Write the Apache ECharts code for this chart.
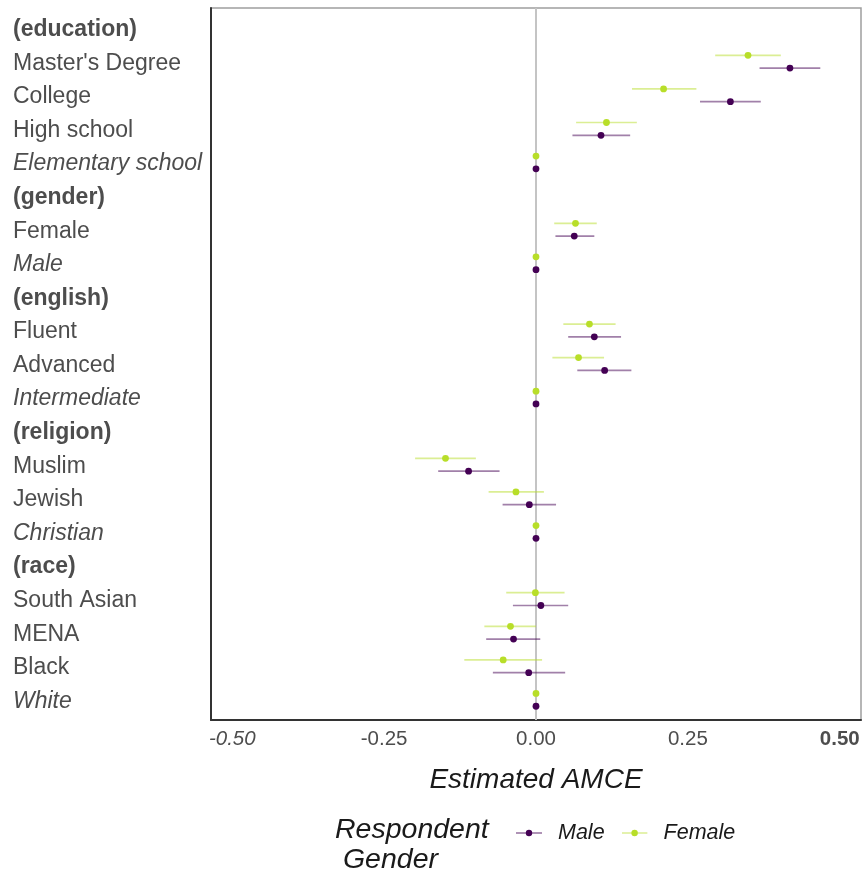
<!DOCTYPE html>
<html>
<head>
<meta charset="utf-8">
<script src="https://cdn.jsdelivr.net/npm/echarts@6/dist/echarts.min.js"></script>
<style>
  html, body { margin: 0; padding: 0; background: #ffffff; }
  #chart { width: 867px; height: 871px; }
</style>
</head>
<body>
<div id="chart"></div>
<script>
// Attribute levels, top to bottom. Kind: 'h' = attribute header, 'n' = level, 'r' = reference level
const rowLabels = [
  '(education)', "Master's Degree", 'College', 'High school', 'Elementary school',
  '(gender)', 'Female', 'Male',
  '(english)', 'Fluent', 'Advanced', 'Intermediate',
  '(religion)', 'Muslim', 'Jewish', 'Christian',
  '(race)', 'South Asian', 'MENA', 'Black', 'White'
];
const rowKinds = [
  'h', 'n', 'n', 'n', 'r',
  'h', 'n', 'r',
  'h', 'n', 'n', 'r',
  'h', 'n', 'n', 'r',
  'h', 'n', 'n', 'n', 'r'
];

// Male respondents: estimate and 95% interval
const maleEst = [null, 0.418, 0.320, 0.107, 0, null, 0.063, 0, null, 0.096, 0.113, 0, null, -0.111, -0.011, 0, null, 0.008, -0.037, -0.012, 0];
const maleLo  = [null, 0.368, 0.270, 0.060, 0, null, 0.032, 0, null, 0.053, 0.068, 0, null, -0.161, -0.055, 0, null, -0.038, -0.082, -0.071, 0];
const maleHi  = [null, 0.468, 0.370, 0.155, 0, null, 0.096, 0, null, 0.140, 0.157, 0, null, -0.060, 0.033, 0, null, 0.053, 0.007, 0.048, 0];

// Female respondents: estimate and 95% interval
const femaleEst = [null, 0.349, 0.210, 0.116, 0, null, 0.065, 0, null, 0.088, 0.070, 0, null, -0.149, -0.033, 0, null, -0.001, -0.042, -0.054, 0];
const femaleLo  = [null, 0.295, 0.158, 0.066, 0, null, 0.030, 0, null, 0.045, 0.027, 0, null, -0.199, -0.078, 0, null, -0.049, -0.085, -0.118, 0];
const femaleHi  = [null, 0.403, 0.264, 0.166, 0, null, 0.100, 0, null, 0.131, 0.112, 0, null, -0.099, 0.013, 0, null, 0.047, 0.000, 0.010, 0];

const xTicks = [-0.5, -0.25, 0, 0.25, 0.5];

const MALE_COLOR = '#440154';
const FEMALE_COLOR = '#B8DE29';

function buildData(est, lo, hi) {
  const out = [];
  for (let i = 0; i < est.length; i++) {
    if (est[i] === null) continue;
    out.push([est[i], i, lo[i], hi[i]]);
  }
  return out;
}

// point with horizontal interval, dodged vertically within its row
function pointRange(dodge, color) {
  return function (params, api) {
    const est = api.value(0), row = api.value(1), lo = api.value(2), hi = api.value(3);
    const dy = api.size([0, 1])[1] * dodge;
    const p = api.coord([est, row]);
    const a = api.coord([lo, row]);
    const b = api.coord([hi, row]);
    return {
      type: 'group',
      children: [
        { type: 'line', shape: { x1: a[0], y1: a[1] + dy, x2: b[0], y2: b[1] + dy },
          style: { stroke: color, lineWidth: 1.7, opacity: 0.5 } },
        { type: 'circle', shape: { cx: p[0], cy: p[1] + dy, r: 3.4 },
          style: { fill: color } }
      ]
    };
  };
}

function legendIcon(color) {
  const svg = '<svg xmlns="http://www.w3.org/2000/svg" width="26" height="8">' +
    '<line x1="0" y1="4" x2="26" y2="4" stroke="' + color + '" stroke-opacity="0.5" stroke-width="1.7"/>' +
    '<circle cx="13" cy="4" r="3.2" fill="' + color + '"/></svg>';
  return 'image://data:image/svg+xml;charset=utf-8,' + encodeURIComponent(svg);
}

const chart = echarts.init(document.getElementById('chart'), null, { renderer: 'canvas' });

const labelFont = 'Liberation Sans, Arial, Helvetica, sans-serif';

chart.setOption({
  animation: false,
  backgroundColor: '#ffffff',
  textStyle: { fontFamily: labelFont },
  title: {
    text: 'Respondent\n Gender',
    left: 330,
    top: 810,
    textStyle: { fontFamily: labelFont, fontSize: 28.5, fontStyle: 'italic', fontWeight: 'normal', color: '#1a1a1a', lineHeight: 30 }
  },
  legend: {
    left: 511,
    top: 817,
    itemWidth: 26,
    itemHeight: 8,
    itemGap: 17,
    data: [
      { name: 'Male', icon: legendIcon(MALE_COLOR) },
      { name: 'Female', icon: legendIcon(FEMALE_COLOR) }
    ],
    textStyle: { fontFamily: labelFont, fontSize: 21.5, fontStyle: 'italic', color: '#1a1a1a', padding: [0, 0, 0, 11] }
  },
  grid: {
    left: 211, right: 6, top: 8, bottom: 151,
    show: true, borderColor: '#9e9e9e', borderWidth: 1.5, backgroundColor: 'transparent'
  },
  xAxis: {
    type: 'value',
    min: -0.535, max: 0.535,
    axisLine: { show: true, onZero: false, lineStyle: { color: '#333333', width: 2 } },
    axisTick: { show: false },
    splitLine: { show: false },
    axisLabel: {
      customValues: xTicks,
      margin: 9,
      fontSize: 20.5,
      color: '#4d4d4d',
      formatter: function (v) {
        const s = v.toFixed(2);
        if (Math.abs(v + 0.5) < 1e-9) return '{i|' + s + '}';
        if (Math.abs(v - 0.5) < 1e-9) return '{b|' + s + '}';
        return s;
      },
      rich: {
        i: { fontSize: 20.5, fontStyle: 'italic', color: '#4d4d4d', fontFamily: labelFont },
        b: { fontSize: 20.5, fontWeight: 'bold', color: '#4d4d4d', fontFamily: labelFont }
      }
    },
    name: 'Estimated AMCE',
    nameLocation: 'middle',
    nameGap: 46,
    nameTextStyle: { fontSize: 28, fontStyle: 'italic', color: '#1a1a1a', fontFamily: labelFont }
  },
  yAxis: {
    type: 'value',
    min: -0.6, max: 20.6,
    inverse: true,
    axisLine: { show: true, onZero: false, lineStyle: { color: '#333333', width: 2 } },
    axisTick: { show: false },
    splitLine: { show: false },
    axisLabel: {
      customValues: rowLabels.map(function (_, i) { return i; }),
      align: 'left',
      margin: 198,
      fontSize: 23,
      color: '#4d4d4d',
      formatter: function (v) {
        const i = Math.round(v);
        const kind = rowKinds[i];
        return '{' + kind + '|' + rowLabels[i] + '}';
      },
      rich: {
        h: { fontSize: 23, fontWeight: 'bold', color: '#4d4d4d', fontFamily: labelFont, padding: [3, 0, 0, 0] },
        n: { fontSize: 23, color: '#4d4d4d', fontFamily: labelFont, padding: [3, 0, 0, 0] },
        r: { fontSize: 23, fontStyle: 'italic', color: '#4d4d4d', fontFamily: labelFont, padding: [3, 0, 0, 0] }
      }
    }
  },
  series: [
    {
      name: 'Female',
      type: 'custom',
      renderItem: pointRange(-0.19, FEMALE_COLOR),
      itemStyle: { color: FEMALE_COLOR },
      encode: { x: [0, 2, 3], y: 1 },
      data: buildData(femaleEst, femaleLo, femaleHi),
      z: 3,
      markLine: {
        silent: true,
        symbol: ['none', 'none'],
        label: { show: false },
        z: 1,
        lineStyle: { color: '#c4c4c4', width: 2, type: 'solid' },
        data: [{ xAxis: 0 }]
      }
    },
    {
      name: 'Male',
      type: 'custom',
      renderItem: pointRange(0.19, MALE_COLOR),
      itemStyle: { color: MALE_COLOR },
      encode: { x: [0, 2, 3], y: 1 },
      data: buildData(maleEst, maleLo, maleHi),
      z: 4
    }
  ]
});
</script>
</body>
</html>
